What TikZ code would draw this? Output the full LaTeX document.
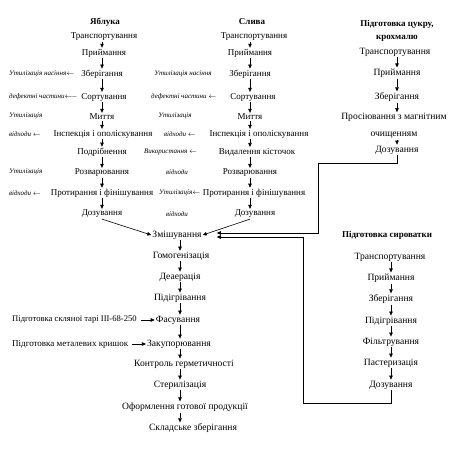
\documentclass[tikz,border=0pt]{standalone}
\usepackage{fontspec}
\setmainfont{Liberation Serif}
\usetikzlibrary{arrows.meta,calc}
\begin{document}
\begin{tikzpicture}[x=1pt,y=-1pt,
  every node/.style={font=\fontsize{9}{10}\selectfont, inner sep=1pt},
  big/.style={font=\fontsize{9.6}{11}\selectfont},
  lbl/.style={font=\fontsize{7}{8}\selectfont\itshape},
  head/.style={font=\fontsize{9}{10}\selectfont\bfseries},
  arr/.style={-{Triangle[length=4pt,width=3.5pt]}, line width=0.6pt},
  ln/.style={line width=0.6pt}]
\fill[white] (0,0) rectangle (449,459);
\useasboundingbox (0,0) rectangle (449,459);
% column x positions
\coordinate (colA) at (102,0);
\coordinate (colS) at (250,0);
\coordinate (colM) at (180,0);
\coordinate (colC) at (397,0);
\coordinate (colW) at (391,0);

% Apple
\node[head] (hA) at (105,22) {Яблука};
\node (a1) at (104,37) {Транспортування};
\node (a2) at (104,53) {Приймання};
\node (a3) at (102,74) {Зберігання};
\node (a4) at (104,97) {Сортування};
\node (a5) at (102,117) {Миття};
\node (a6) at (103,134) {Інспекція і ополіскування};
\node (a7) at (102,152) {Подрібнення};
\node (a8) at (102,173) {Розварювання};
\node (a9) at (102,193) {Протирання і фінішування};
\node (a10) at (102,214) {Дозування};
\node[lbl,anchor=west] (la3) at (8,74) {Утилізація насіння$\leftarrow$};
\node[lbl,anchor=west] (la4) at (8,97) {дефектні частини$\longleftarrow$};
\node[lbl,anchor=west] (la5) at (8,116) {Утилізація};
\node[lbl,anchor=west] (la6) at (8,134) {відходи $\leftarrow$};
\node[lbl,anchor=west] (la8) at (8,172) {Утилізація};
\node[lbl,anchor=west] (la9) at (8,193) {відходи $\leftarrow$};

% Plum
\node[head] (hS) at (252,22) {Слива};
\node (s1) at (254,37) {Транспортування};
\node (s2) at (250,53) {Приймання};
\node (s3) at (250,74) {Зберігання};
\node (s4) at (253,97) {Сортування};
\node (s5) at (250,117) {Миття};
\node (s6) at (259,134) {Інспекція і ополіскування};
\node (s7) at (257,152) {Видалення кісточок};
\node (s8) at (250,173) {Розварювання};
\node (s9) at (254,193) {Протирання і фінішування};
\node (s10) at (255,214) {Дозування};
\node[lbl] (ls3) at (183,74) {Утилізація насіння};
\node[lbl,anchor=west] (ls4) at (150,97) {дефектні частини $\leftarrow$};
\node[lbl] (ls5) at (175,116) {Утилізація};
\node[lbl,anchor=west] (ls6) at (163,134) {відходи $\leftarrow$};
\node[lbl,anchor=west] (ls7) at (143,152) {Використання $\leftarrow$};
\node[lbl] (ls8) at (177,172) {відходи};
\node[lbl,anchor=east] (ls9) at (s9.west) {Утилізація$\leftarrow$};
\node[lbl] (ls10) at (177,214) {відходи};

% Main line
\node[big] (m1) at (177,235) {Змішування};
\node[big] (m2) at (181,256) {Гомогенізація};
\node[big] (m3) at (180,277) {Деаерація};
\node[big] (m4) at (180,298) {Підігрівання};
\node[big] (m5) at (178,320) {Фасування};
\node[big] (m6) at (179,344) {Закупорювання};
\node[big] (m7) at (184,364) {Контроль герметичності};
\node[big] (m8) at (180,385) {Стерилізація};
\node[big] (m9) at (185,407) {Оформлення готової продукції};
\node[big] (m10) at (193,428) {Складське зберігання};
\node[font=\fontsize{8.6}{10}\selectfont,anchor=west] (p1) at (11,320) {Підготовка скляної тарі ІІІ-68-250};
\node[anchor=west] (p2) at (11,344) {Підготовка металевих кришок};

% Sugar
\node[head,align=center] (hC) at (397,31) {Підготовка цукру,\\[3pt]крохмалю};
\node[big] (c1) at (395,52) {Транспортування};
\node[big] (c2) at (397,73) {Приймання};
\node[big] (c3) at (397,97) {Зберігання};
\node[big,align=center] (c4) at (394,126) {Просіювання з магнітним\\[6pt]очищенням};
\node[big] (c5) at (397,150) {Дозування};

% Whey
\node[head] (hW) at (387,235) {Підготовка сироватки};
\node[big] (w1) at (390,257) {Транспортування};
\node[big] (w2) at (391,278) {Приймання};
\node[big] (w3) at (391,299) {Зберігання};
\node[big] (w4) at (391,321) {Підігрівання};
\node[big] (w5) at (391,342) {Фільтрування};
\node[big] (w6) at (391,363) {Пастеризація};
\node[big] (w7) at (391,385) {Дозування};

% vertical arrows
\foreach \p/\q in {a1/a2,a2/a3,a3/a4,a4/a5,a5/a6,a6/a7,a7/a8,a8/a9,a9/a10}
  \draw[arr] (\p.south -| colA) -- (\q.north -| colA);
\foreach \p/\q in {s1/s2,s2/s3,s3/s4,s4/s5,s5/s6,s6/s7,s7/s8,s8/s9,s9/s10}
  \draw[arr] (\p.south -| colS) -- (\q.north -| colS);
\foreach \p/\q in {m1/m2,m2/m3,m3/m4,m4/m5,m5/m6,m6/m7,m7/m8,m8/m9,m9/m10}
  \draw[arr] (\p.south -| colM) -- (\q.north -| colM);
\foreach \p/\q in {c1/c2,c2/c3,c3/c4,c4/c5}
  \draw[arr] (\p.south -| colC) -- (\q.north -| colC);
\foreach \p/\q in {w1/w2,w2/w3,w3/w4,w4/w5,w5/w6,w6/w7}
  \draw[arr] (\p.south -| colW) -- (\q.north -| colW);

% into mixing
\draw[arr] (a10.south) -- (m1.west);
\draw[arr] (s10.south -| colS) -- (m1.east);
\coordinate (inC) at ($(m1.east)+(14,-2)$);
\coordinate (inW) at ($(m1.east)+(14,2)$);
\draw[arr] (c5.south -| colC) |- (318,163) -- (318,233) -- (inC);
\draw[arr] (w7.south -| colW) -- (391,403) -| (303,237) -- (inW);
\draw[arr] ($(p1.east)+(3,0)$) -- (m5.west);
\draw[arr] ($(p2.east)+(3,0)$) -- (m6.west);
\end{tikzpicture}
\end{document}
